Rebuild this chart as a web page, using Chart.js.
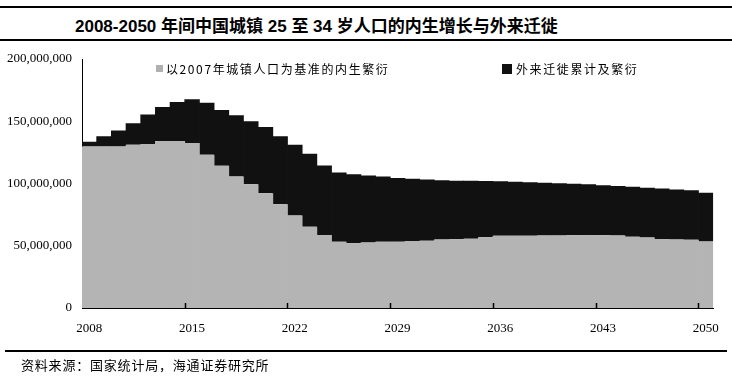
<!DOCTYPE html>
<html>
<head>
<meta charset="utf-8">
<script src="https://cdn.jsdelivr.net/npm/chart.js@4.4.1/dist/chart.umd.min.js"></script>
<style>
  html,body{margin:0;padding:0;background:#fff;}
  #wrap{position:relative;width:732px;height:381px;overflow:hidden;background:#fff;}
  canvas{position:absolute;left:0;top:0;}
  .rule{position:absolute;background:#000;}
  #title{position:absolute;left:75px;top:12px;font:bold 17px "Liberation Sans","Noto Sans CJK SC",sans-serif;color:#000;white-space:nowrap;}
  #source{position:absolute;left:21px;top:355px;font:13px "Noto Sans CJK SC",sans-serif;color:#000;white-space:nowrap;letter-spacing:0.8px;}
  .leg{position:absolute;font:12px "Noto Sans CJK SC","Liberation Serif",serif;color:#000;white-space:nowrap;letter-spacing:1.6px;}
  .sw{position:absolute;}
</style>
</head>
<body>
<div id="wrap">
  <div class="rule" style="left:0;top:6px;width:732px;height:2px;"></div>
  <div id="title">2008-2050 年间中国城镇 25 至 34 岁人口的内生增长与外来迁徙</div>
  <div class="rule" style="left:0;top:39px;width:732px;height:2px;"></div>
  <canvas id="c" width="732" height="381"></canvas>
  <div class="sw" style="left:156px;top:65px;width:7px;height:7px;background:#b0b0b0;"></div>
  <div class="leg" id="leg1" style="left:166px;top:60px;">以2007年城镇人口为基准的内生繁衍</div>
  <div class="sw" style="left:502px;top:64px;width:10px;height:10px;background:#111;"></div>
  <div class="leg" id="leg2" style="left:516px;top:60px;">外来迁徙累计及繁衍</div>
  <div class="rule" style="left:5px;top:350px;width:722px;height:2px;"></div>
  <div id="source">资料来源：国家统计局，海通证券研究所</div>
</div>
<script>
const years = [2008,2009,2010,2011,2012,2013,2014,2015,2016,2017,2018,2019,2020,2021,2022,2023,2024,2025,2026,2027,2028,2029,2030,2031,2032,2033,2034,2035,2036,2037,2038,2039,2040,2041,2042,2043,2044,2045,2046,2047,2048,2049,2050];

const seriesNames = ['以2007年城镇人口为基准的内生繁衍','外来迁徙累计及繁衍'];

// 以2007年城镇人口为基准的内生繁衍
const nativeGrowth = [129800000,129800000,129800000,131200000,131800000,134200000,134200000,132500000,123000000,114300000,105600000,99300000,92200000,83300000,74200000,65300000,58600000,53200000,52000000,52700000,53200000,53300000,53800000,54000000,55000000,55200000,55600000,56800000,58000000,58000000,58000000,58200000,58300000,58500000,58600000,58500000,58200000,57300000,56600000,55500000,55000000,54800000,53500000];

// 外来迁徙累计及繁衍
const migration = [3700000,8200000,12700000,17100000,23600000,27200000,31200000,35200000,41800000,44700000,49200000,50700000,53200000,54600000,57000000,58600000,55900000,55700000,55500000,53800000,52400000,51200000,50000000,49200000,47600000,47000000,46600000,45200000,43800000,43500000,43000000,42400000,42000000,41200000,40700000,40000000,39700000,40000000,40000000,40500000,40200000,39700000,39000000];

const yTicks = [0,50000000,100000000,150000000,200000000];
const labelEvery = 7;

// small inward tick marks on the category axis, every 7 categories (between bars)
const innerTicks = {
  id:'innerTicks',
  afterDatasetsDraw(chart){
    const x = chart.scales.x, ctx = chart.ctx, b = chart.chartArea.bottom;
    ctx.save(); ctx.strokeStyle='#000'; ctx.lineWidth=1.5;
    for(let i=labelEvery;i<years.length;i+=labelEvery){
      const px = Math.round((x.getPixelForTick(i-1)+x.getPixelForTick(i))/2)+0.5;
      ctx.beginPath(); ctx.moveTo(px,b); ctx.lineTo(px,b-5); ctx.stroke();
    }
    ctx.restore();
  }
};

new Chart(document.getElementById('c'), {
  type: 'bar',
  data: {
    labels: years.map(String),
    datasets: [
      {label: seriesNames[0], data: nativeGrowth, backgroundColor:'#b4b4b4', borderWidth:0, barPercentage:1.05, categoryPercentage:1},
      {label: seriesNames[1], data: migration, backgroundColor:'#111111', borderWidth:0, barPercentage:1.05, categoryPercentage:1}
    ]
  },
  plugins:[innerTicks],
  options: {
    responsive:false,
    animation:false,
    devicePixelRatio:1,
    layout:{padding:{left:0,right:16,top:59,bottom:38}},
    plugins:{legend:{display:false},tooltip:{enabled:false}},
    scales:{
      x:{
        stacked:true,
        grid:{display:false,drawTicks:false},
        border:{display:true,color:'#000',width:1},
        ticks:{
          autoSkip:false, maxRotation:0, minRotation:0, padding:13,
          color:'#000', font:{family:'"Liberation Serif", serif', size:13},
          callback:function(v,i){ return i % labelEvery === 0 ? years[i] : ''; }
        },
        afterFit:function(s){ s.height = 35; }
      },
      y:{
        stacked:true,
        min:0,max:200000000,
        afterBuildTicks:function(s){ s.ticks = yTicks.map(v=>({value:v})); },
        grid:{display:false,drawTicks:false},
        border:{display:true,color:'#000',width:1},
        ticks:{
          padding:10,color:'#000',
          font:{family:'"Liberation Serif", serif', size:13},
          callback:function(v){ return v.toLocaleString('en-US'); }
        },
        afterFit:function(s){ s.width = 82; }
      }
    }
  }
});
</script>
</body>
</html>
